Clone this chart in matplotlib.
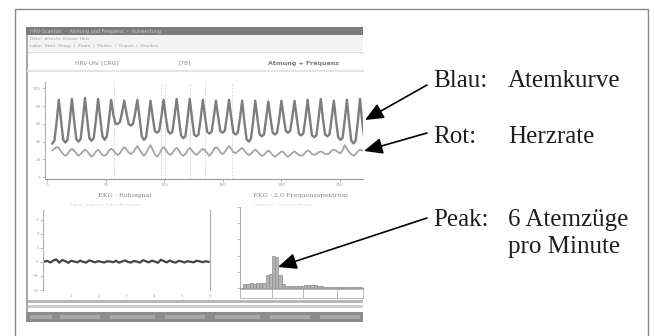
import matplotlib
matplotlib.use("Agg")
import matplotlib.pyplot as plt
from matplotlib.patches import Rectangle
import numpy as np

W, H = 654, 336

# breathing curve ("Blau") and heart rate ("Rot"), 6 samples per breath
breath = [
    38, 41, 62, 87, 64, 42,  39, 42, 63, 88, 64, 43,  40, 43, 64, 89, 65, 44,
    41, 44, 64, 88, 66, 46,  42, 46, 65, 87, 70, 60,  60, 62, 73, 86, 72, 60,
    58, 60, 72, 87, 66, 46,  42, 45, 64, 86, 68, 52,  50, 52, 68, 87, 68, 52,
    49, 51, 68, 88, 66, 47,  44, 46, 66, 88, 67, 48,  46, 48, 66, 87, 68, 51,
    49, 51, 67, 86, 68, 52,  50, 52, 68, 87, 67, 50,  48, 50, 66, 86, 63, 43,
    40, 43, 62, 86, 66, 48,  46, 48, 66, 85, 66, 50,  48, 50, 66, 86, 68, 52,
    50, 52, 68, 86, 67, 49,  47, 49, 66, 87, 66, 47,  45, 47, 66, 88, 66, 48,
    46, 48, 66, 86, 64, 45,  42, 44, 64, 87, 62, 41,  38, 41, 62, 88, 62, 42,
    40,
]
heart = [
    30, 32, 34, 33, 29, 26,  24, 26, 30, 32, 30, 27,  24, 26, 29, 31, 29, 26,
    23, 25, 29, 31, 28, 25,  24, 26, 30, 32, 30, 27,  25, 27, 31, 34, 31, 28,
    26, 28, 32, 35, 31, 27,  24, 27, 32, 36, 31, 26,  23, 26, 31, 34, 31, 27,
    25, 27, 31, 33, 30, 26,  24, 26, 30, 33, 30, 27,  25, 27, 30, 32, 30, 27,
    24, 27, 31, 34, 32, 28,  26, 28, 32, 35, 32, 28,  27, 29, 31, 33, 30, 27,
    25, 26, 29, 31, 29, 26,  24, 25, 28, 30, 28, 25,  23, 25, 27, 29, 28, 25,
    23, 25, 27, 29, 27, 25,  24, 25, 28, 30, 29, 26,  25, 26, 28, 29, 28, 26,
    26, 27, 30, 31, 30, 28,  27, 30, 36, 32, 28, 26,  24, 26, 29, 31, 30, 29,
    28,
]
t_start, t_step = 4.2, 1.867
marker_times = [56.6, 97, 100.3, 121.6, 135, 158]
top_xticks = [0, 50, 100, 150, 200, 250]
top_yticks = [0, 20, 40, 60, 80, 100]

# raw ECG signal (flat with small noise)
ecg = [
    0.03, 0.07, -0.04, 0.1, 0.18, -0.05, 0.14, 0.05, -0.06, 0.08, 0.03, -0.03,
    0.09, 0.0, -0.05, 0.11, 0.04, -0.03, 0.06, 0.01, -0.04, 0.05, 0.03, -0.02,
    0.08, -0.05, 0.03, 0.1, 0.0, -0.04, 0.07, 0.02, -0.05, 0.12, 0.05, -0.03,
    0.09, 0.03, -0.06, 0.15, 0.06, -0.03, 0.1, 0.0, -0.05, 0.08, 0.03, -0.04,
    0.06, 0.01, -0.03, 0.09, 0.04, -0.02, 0.05, 0.0,
]
ecg_xticks = [1, 2, 3, 4, 5, 6]
ecg_yticks = [-2, -1, 0, 1, 2, 3]

# frequency spectrum, bins of 0.01 Hz
spec_power = [
    0.0, 0.22, 0.26, 0.28, 0.26, 0.3, 0.28, 0.32, 0.8, 0.85,
    1.95, 1.9, 0.8, 0.22, 0.12, 0.1, 0.1, 0.12, 0.12, 0.12,
    0.16, 0.2, 0.2, 0.16, 0.12, 0.1, 0.08, 0.08, 0.08, 0.08,
    0.08, 0.08, 0.08, 0.08, 0.08, 0.08, 0.08, 0.08,
]
spec_yticks = [0, 1, 2, 3, 4, 5]


def fbox(x0, y0, x1, y1):
    return [x0 / W, 1 - y1 / H, (x1 - x0) / W, (y1 - y0) / H]


def faint_axes(ax, ticksize=3):
    for s in ax.spines.values():
        s.set_color("#b0b0b0")
        s.set_linewidth(0.8)
    ax.tick_params(length=2, width=0.6, color="#b0b0b0", labelsize=ticksize,
                   labelcolor="#a0a0a0", pad=1)


fig = plt.figure(figsize=(W / 100, H / 100), dpi=100)

bg = fig.add_axes([0, 0, 1, 1])
bg.set_xlim(0, W)
bg.set_ylim(H, 0)
bg.axis("off")

# outer frame and screenshot chrome
bg.add_patch(Rectangle((15, 9), 633, 330, fill=False, ec="#8a8a8a", lw=1))
bg.add_patch(Rectangle((26, 27), 337, 295, fc="white", ec="none"))
bg.add_patch(Rectangle((26, 27), 2, 295, fc="#a8a8a8", ec="none"))
bg.add_patch(Rectangle((26, 27), 337, 8, fc="#7c7c7c", ec="none"))
bg.text(30, 31, "HRV-Scanner  -  Atmung und Frequenz  -  Auswertung", fontsize=3.5,
        color="#c8c8c8", va="center")
bg.add_patch(Rectangle((28, 35), 335, 16, fc="#f3f3f3", ec="none"))
bg.text(30, 39, "Datei  Ansicht  Extras  Hilfe", fontsize=3.2, color="#a8a8a8", va="center")
bg.text(30, 46, "Labor  Start  Stopp  |  Zoom  |  Marker  |  Export  |  Drucken",
        fontsize=3.2, color="#a0a0a0", va="center")
bg.plot([28, 363], [52, 52], color="#e0e0e0", lw=1)
bg.text(97, 63, "HRV-Uhr [CRG]", fontsize=4.2, color="#8a8a8a", ha="center", va="center")
bg.text(185, 63, "[78]", fontsize=4.2, color="#8a8a8a", ha="center", va="center")
bg.text(303, 63, "Atmung + Frequenz", fontsize=4.6, color="#7a7a7a", ha="center",
        va="center", fontweight="bold")
bg.plot([28, 363], [71, 71], color="#e4e4e4", lw=1.5)

bg.text(125, 195, "EKG - Rohsignal", fontsize=4.6, color="#8a8a8a", ha="center",
        va="center", family="DejaVu Serif")
bg.text(253, 195, "EKG - 2.0 Frequenzspektrum", fontsize=4.6, color="#8a8a8a",
        va="center", family="DejaVu Serif")
bg.text(70, 205, "Signal  Segment  Filter  Abtastrate", fontsize=3, color="#d8d8d8",
        va="center")
bg.text(255, 205, "Spektrum  Leistung  Fenster", fontsize=3, color="#d8d8d8", va="center")

# cells below the spectrum, scroll bars and status bar
for x0, x1 in [(240, 272), (272, 303), (303, 337), (337, 363)]:
    bg.add_patch(Rectangle((x0, 289), x1 - x0, 9, fill=False, ec="#b8b8b8", lw=0.7))
bg.add_patch(Rectangle((28, 300), 335, 3, fc="#b8b8b8", ec="none"))
bg.add_patch(Rectangle((28, 305), 335, 3, fc="#cfcfcf", ec="none"))
bg.add_patch(Rectangle((26, 312), 337, 10, fc="#8c8c8c", ec="none"))
for x0, w in [(30, 22), (60, 40), (110, 45), (165, 40), (215, 45), (270, 40), (320, 40)]:
    bg.add_patch(Rectangle((x0, 315), w, 4, fc="#a8a8a8", ec="none"))

# top: breathing + heart rate
ax1 = fig.add_axes(fbox(45, 82, 363, 179))
t = t_start + t_step * np.arange(len(breath))
for m in marker_times:
    ax1.axvline(m, color="#cfcfcf", lw=0.6, ls=(0, (2, 2)), zorder=0)
ax1.plot(t, breath, color="#7d7d7d", lw=1.7, solid_joinstyle="round")
ax1.plot(t, heart, color="#a5a5a5", lw=1.3, solid_joinstyle="round")
ax1.set_xlim(-2, 270)
ax1.set_ylim(-2, 107)
ax1.set_xticks(top_xticks)
ax1.set_yticks(top_yticks)
faint_axes(ax1)
ax1.spines["top"].set_visible(False)
ax1.spines["right"].set_visible(False)
ax1.spines["bottom"].set_color("#9a9a9a")

# bottom left: raw ECG
ax2 = fig.add_axes(fbox(43, 210, 210, 290))
ax2.plot(np.linspace(0.05, 5.95, len(ecg)), ecg, color="#444444", lw=1.6)
ax2.set_xlim(0, 6)
ax2.set_ylim(-2, 3.7)
ax2.set_xticks(ecg_xticks)
ax2.set_yticks(ecg_yticks)
faint_axes(ax2)
ax2.spines["top"].set_visible(False)
ax2.spines["bottom"].set_visible(False)
ax2.tick_params(axis="x", length=0, pad=3)

# bottom right: spectrum
ax3 = fig.add_axes(fbox(240, 207, 363, 288))
freqs = 0.005 + 0.01 * np.arange(len(spec_power))
ax3.bar(freqs, spec_power, width=0.01, color="#b4b4b4", edgecolor="#8c8c8c", lw=0.5)
ax3.set_xlim(0, 0.384)
ax3.set_ylim(0, 5)
ax3.set_xticks([])
ax3.set_yticks(spec_yticks)
faint_axes(ax3)
ax3.spines["top"].set_visible(False)
ax3.spines["right"].set_visible(False)
ax3.spines["bottom"].set_color("#9a9a9a")
ax3.tick_params(axis="y", labelleft=False)

# overlay with annotations
ov = fig.add_axes([0, 0, 1, 1])
ov.set_xlim(0, W)
ov.set_ylim(H, 0)
ov.axis("off")
ov.patch.set_alpha(0)

arrow = dict(arrowstyle="-|>,head_length=0.8,head_width=0.35", color="black",
             lw=1.2, shrinkA=0, shrinkB=0, mutation_scale=14)
ov.annotate("", xy=(365, 120), xytext=(427, 85), arrowprops=arrow)
ov.annotate("", xy=(364, 151), xytext=(427, 133), arrowprops=arrow)
ov.annotate("", xy=(278, 267), xytext=(427, 218), arrowprops=arrow)

txt = dict(fontsize=18, color="#1e1e1e", family="Liberation Serif", va="baseline")
ov.text(433, 87, "Blau:", **txt)
ov.text(508, 87, "Atemkurve", **txt)
ov.text(433, 143, "Rot:", **txt)
ov.text(508, 143, "Herzrate", **txt)
ov.text(433, 226, "Peak:", **txt)
ov.text(508, 226, "6 Atemzüge", **txt)
ov.text(508, 253, "pro Minute", **txt)

fig.savefig("out.png", dpi=100)
